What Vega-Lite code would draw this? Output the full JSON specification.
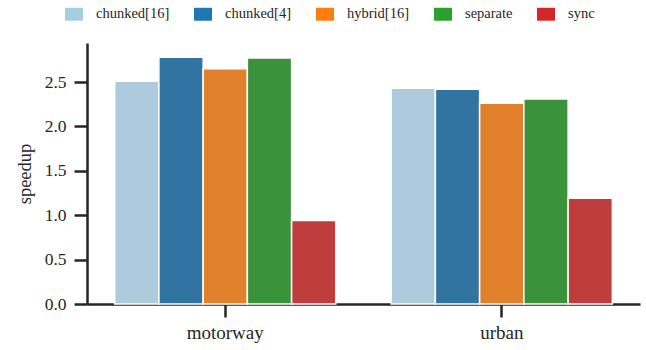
{
  "$schema": "https://vega.github.io/schema/vega-lite/v6.json",
  "width": 553,
  "height": 261,
  "autosize": {"type": "none"},
  "padding": {"left": 87, "top": 43, "right": 6, "bottom": 46},
  "background": "white",
  "config": {
    "font": "'Liberation Serif', 'Times New Roman', serif",
    "view": {"stroke": null},
    "axis": {
      "domainColor": "#262626",
      "domainWidth": 2.5,
      "tickColor": "#262626",
      "tickWidth": 2.5,
      "tickSize": 13,
      "grid": false,
      "labelColor": "#262626",
      "labelFontSize": 17.5,
      "titleColor": "#262626",
      "titleFontSize": 18.5,
      "titleFontWeight": "normal",
      "labelFont": "'Liberation Serif', 'Times New Roman', serif",
      "titleFont": "'Liberation Serif', 'Times New Roman', serif"
    }
  },
  "data": {
    "values": [
      {"scenario": "motorway", "method": "chunked[16]", "speedup": 2.51},
      {"scenario": "motorway", "method": "chunked[4]", "speedup": 2.78},
      {"scenario": "motorway", "method": "hybrid[16]", "speedup": 2.65},
      {"scenario": "motorway", "method": "separate", "speedup": 2.77},
      {"scenario": "motorway", "method": "sync", "speedup": 0.94},
      {"scenario": "urban", "method": "chunked[16]", "speedup": 2.43},
      {"scenario": "urban", "method": "chunked[4]", "speedup": 2.42},
      {"scenario": "urban", "method": "hybrid[16]", "speedup": 2.26},
      {"scenario": "urban", "method": "separate", "speedup": 2.31},
      {"scenario": "urban", "method": "sync", "speedup": 1.19}
    ]
  },
  "encoding": {
    "x": {
      "field": "scenario",
      "type": "nominal",
      "scale": {"paddingInner": 0.2, "paddingOuter": 0.1},
      "axis": {"title": null, "labelAngle": 0, "labelPadding": 6, "labelFontSize": 19}
    }
  },
  "layer": [
    {
      "mark": {"type": "bar", "stroke": "white", "strokeWidth": 1.5},
      "encoding": {
        "xOffset": {"field": "method", "type": "nominal", "scale": {"paddingInner": 0, "paddingOuter": 0}},
        "y": {
          "field": "speedup",
          "type": "quantitative",
          "scale": {"domain": [0, 2.94], "nice": false},
          "axis": {"title": "speedup", "values": [0, 0.5, 1, 1.5, 2, 2.5], "format": ".1f", "labelPadding": 8, "titlePadding": 10}
        },
        "color": {
          "field": "method",
          "type": "nominal",
          "scale": {"domain": ["chunked[16]", "chunked[4]", "hybrid[16]", "separate", "sync"], "range": ["#adcbdc", "#3274a1", "#e1812c", "#3a923a", "#c03d3e"]},
          "legend": null
        }
      }
    },
    {
      "mark": {"type": "point", "filled": true, "opacity": 0},
      "encoding": {
        "xOffset": {"field": "method", "type": "nominal"},
        "y": {"field": "speedup", "type": "quantitative"},
        "color": {
          "field": "method",
          "type": "nominal",
          "scale": {"domain": ["chunked[16]", "chunked[4]", "hybrid[16]", "separate", "sync"], "range": ["#a6cee3", "#1f77b4", "#ff7f0e", "#2ca02c", "#d62728"]},
          "legend": {
            "title": null,
            "orient": "none",
            "direction": "horizontal",
            "legendX": -22,
            "legendY": -38,
            "symbolType": "M-1,-0.72H1V0.72H-1Z",
            "symbolSize": 324,
            "symbolOpacity": 1,
            "symbolStrokeWidth": 0,
            "labelFontSize": 14.5,
            "labelColor": "#262626",
            "labelFont": "'Liberation Serif', 'Times New Roman', serif",
            "labelOffset": 13,
            "columnPadding": 24
          }
        }
      }
    }
  ],
  "resolve": {"scale": {"color": "independent"}}
}
